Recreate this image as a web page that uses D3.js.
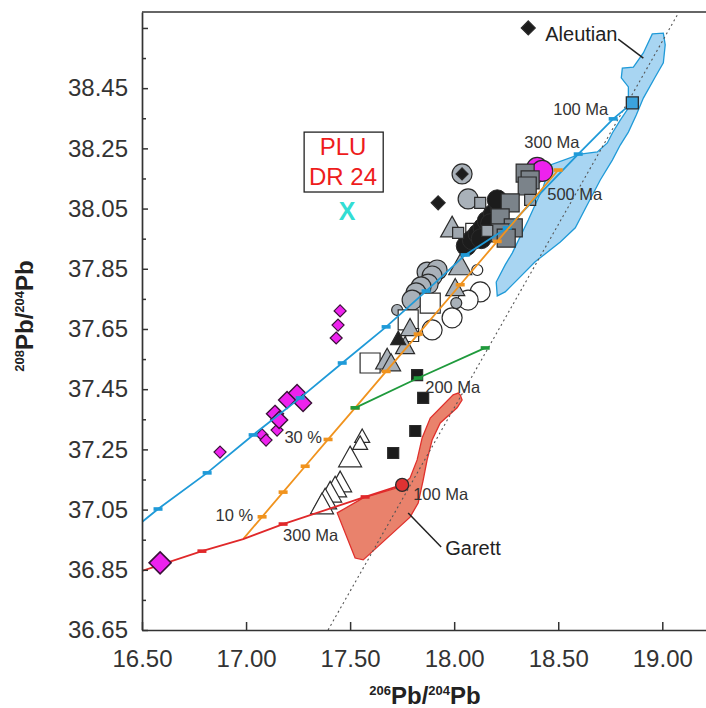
<!DOCTYPE html>
<html><head><meta charset="utf-8">
<script src="https://cdn.jsdelivr.net/npm/d3@7"></script>
<style>
body{margin:0;background:#fff}
svg{display:block}
text{font-family:"Liberation Sans",Arial,sans-serif}
</style>
</head><body>
<svg id="c" width="706" height="708"></svg>
<script>
// ---------- DATA ----------
const xTicks = [16.5, 17.0, 17.5, 18.0, 18.5, 19.0];
const yMajorTicks = [36.65, 36.85, 37.05, 37.25, 37.45, 37.65, 37.85, 38.05, 38.25, 38.45, 38.65];
const yMinorTicks = [36.75, 36.95, 37.15, 37.35, 37.55, 37.75, 37.95, 38.15, 38.35, 38.55];
const yLabelMax = 38.45;

const aleutianField = [[18.952,38.630],[19.005,38.633],[19.014,38.594],[19.005,38.534],[18.966,38.487],[18.909,38.417],[18.875,38.361],[18.837,38.304],[18.798,38.261],[18.760,38.211],[18.702,38.145],[18.639,38.062],[18.582,37.986],[18.510,37.939],[18.389,37.873],[18.303,37.813],[18.245,37.773],[18.207,37.760],[18.202,37.806],[18.245,37.863],[18.279,37.902],[18.356,38.012],[18.428,38.122],[18.462,38.195],[18.606,38.231],[18.688,38.238],[18.736,38.268],[18.760,38.301],[18.798,38.344],[18.837,38.384],[18.837,38.454],[18.803,38.484],[18.808,38.517],[18.861,38.520],[18.909,38.567]];
const garettField = [[18.029,37.431],[18.038,37.414],[18.014,37.388],[17.933,37.338],[17.894,37.281],[17.870,37.215],[17.851,37.148],[17.827,37.072],[17.788,37.025],[17.563,36.883],[17.524,36.889],[17.438,37.039],[17.563,37.089],[17.740,37.125],[17.788,37.155],[17.822,37.215],[17.846,37.288],[17.885,37.354],[17.995,37.431],[18.019,37.437]];

const referenceLine = [[17.394,36.65],[19.072,38.693]];

const blueCurve = [[16.5,37.009],[16.577,37.052],[16.813,37.172],[17.034,37.298],[17.26,37.421],[17.462,37.537],[17.673,37.657],[17.865,37.776],[18.053,37.896],[18.255,37.986],[18.596,38.231],[18.764,38.348],[18.856,38.401]];
const orangeCurve = [[16.986,36.952],[17.077,37.026],[17.178,37.108],[17.284,37.194],[17.394,37.283],[17.524,37.388],[17.673,37.509],[17.827,37.633],[18.029,37.797],[18.207,37.941],[18.5,38.178]];
const greenCurve = [[17.524,37.388],[17.827,37.487],[18.149,37.587]];
const redCurve = [[16.5,36.846],[16.788,36.912],[16.986,36.952],[17.178,37.002],[17.572,37.092],[17.75,37.132]];
const redCurveTicks = [[16.788,36.912],[17.178,37.002],[17.572,37.092]];

const magentaDiamondsXL = [[16.587,36.873]];
const magentaDiamondsL = [[17.139,37.368],[17.159,37.348],[17.197,37.414],[17.245,37.437],[17.274,37.404]];
const magentaDiamondsS = [[16.875,37.241],[17.077,37.298],[17.096,37.281],[17.149,37.314],[17.452,37.710],[17.442,37.663],[17.433,37.620]];
const magentaCircles = [[18.380,38.165],[18.399,38.185],[18.423,38.175]];
const blackDiamonds = [[18.356,38.650],[17.923,38.069]];
const circledDiamonds = [[18.038,38.165]];
const grayCirclesL = [[18.067,38.082],[17.870,37.839],[17.918,37.846],[17.894,37.826],[17.875,37.799],[17.841,37.790],[17.817,37.770],[17.798,37.746]];
const grayCirclesS = [[17.726,37.713],[18.010,37.736]];
const openCirclesL = [[18.125,37.773],[18.067,37.746],[17.990,37.687],[17.894,37.647]];
const openCirclesS = [[18.111,37.846]];
const openSquaresL = [[17.596,37.537],[17.885,37.736],[17.779,37.680]];
const openSquaresS = [[17.798,37.630],[18.087,37.979]];
const grayTrianglesL = [[18.029,37.853],[17.990,37.979],[17.678,37.540]];
const grayTrianglesM = [[18.005,37.780],[17.697,37.530],[17.764,37.587],[17.788,37.647]];
const blackTriangles = [[17.731,37.613]];
const blackCircles = [[18.058,37.926],[18.087,37.946],[18.115,37.966],[18.139,37.986],[18.159,38.009],[18.188,38.032],[18.221,38.052],[18.207,38.079],[18.175,38.000],[18.130,37.950]];
const graySquaresL = [[18.341,38.168],[18.365,38.145],[18.351,38.125],[18.269,38.069],[18.221,38.019],[18.284,37.986],[18.221,37.969],[18.250,37.952]];
const graySquaresS = [[18.125,38.069],[18.365,38.079],[18.159,37.976],[18.019,37.969]];
const blackSquares = [[17.822,37.497],[17.851,37.421],[17.813,37.311],[17.707,37.238]];
const openTrianglesL = [[17.500,37.215],[17.452,37.132],[17.428,37.115],[17.404,37.098],[17.380,37.075],[17.365,37.059]];
const openTrianglesS = [[17.558,37.288],[17.548,37.265]];
const blueSquare = [[18.856,38.401]];
const redCircle = [[17.75,37.132]];

const ageLabels = [
  {t:"100 Ma", x:18.476, y:38.361, a:"start"},
  {t:"300 Ma", x:18.337, y:38.251, a:"start"},
  {t:"500 Ma", x:18.447, y:38.079, a:"start"},
  {t:"200 Ma", x:17.861, y:37.437, a:"start"},
  {t:"100 Ma", x:17.803, y:37.082, a:"start"},
  {t:"300 Ma", x:17.178, y:36.946, a:"start"},
  {t:"10 %",   x:17.034, y:37.012, a:"end"},
  {t:"30 %",   x:17.365, y:37.271, a:"end"}
];
const fieldLabels = [
  {t:"Aleutian", x:18.4375, y:38.607, lx1:18.788, ly1:38.613, lx2:18.909, ly2:38.550},
  {t:"Garett",   x:17.957,  y:36.899, lx1:17.779, ly1:37.039, lx2:17.9375, ly2:36.926}
];
const sampleBox = {x0:17.279, x1:17.659, y0:38.105, y1:38.304, lines:["PLU","DR 24"], ys:[38.228,38.128], cx:17.466};
const sampleMark = {t:"X", x:17.486, y:38.012};

// ---------- CHART ----------
const svg = d3.select("#c");
const x = d3.scaleLinear().domain([16.5, 19.21]).range([142, 706]);
const y = d3.scaleLinear().domain([36.65, 38.703]).range([630, 12]);
const AX = "#333";

svg.append("clipPath").attr("id","clip").append("rect")
  .attr("x", x(16.5)).attr("y", y(38.703)).attr("width", 706 - x(16.5)).attr("height", y(36.65) - y(38.703));
const plot = svg.append("g").attr("clip-path","url(#clip)");

const line = d3.line().x(d => x(d[0])).y(d => y(d[1]));

// fields
plot.append("path").datum(aleutianField).attr("d", d => line(d) + "Z")
  .attr("fill", "#a8d5f2").attr("stroke", "#1f9ad8").attr("stroke-width", 1.3);
plot.append("path").datum(garettField).attr("d", d => line(d) + "Z")
  .attr("fill", "#e9826c").attr("stroke", "#e0302c").attr("stroke-width", 1.3);

// reference dotted line
plot.append("path").datum(referenceLine).attr("d", line)
  .attr("fill","none").attr("stroke","#555").attr("stroke-width",1.1).attr("stroke-dasharray","2,3");

// marker helpers
const ST = "#2b2b2b";
function circles(data, r, fill, sw) {
  plot.append("g").selectAll("circle").data(data).join("circle")
    .attr("cx", d => x(d[0])).attr("cy", d => y(d[1])).attr("r", r)
    .attr("fill", fill).attr("stroke", ST).attr("stroke-width", sw || 1.2);
}
function shape(data, pathStr, fill, sw, stroke) {
  plot.append("g").selectAll("path").data(data).join("path")
    .attr("d", pathStr).attr("transform", d => `translate(${x(d[0])},${y(d[1])})`)
    .attr("fill", fill).attr("stroke", stroke || ST).attr("stroke-width", sw || 1.2);
}
const dia = s => `M0,${-s/2}L${s/2},0L0,${s/2}L${-s/2},0Z`;
const sq = s => `M${-s/2},${-s/2}h${s}v${s}h${-s}Z`;
const tri = s => { const h = s*0.9; return `M0,${-2*h/3}L${s/2},${h/3}L${-s/2},${h/3}Z`; };

circles(openCirclesL, 10, "#fff");
circles(openCirclesS, 5.5, "#fff");
circles(grayCirclesL, 10, "#a9b1b9");
circles(grayCirclesS, 5.5, "#a9b1b9");
shape(openSquaresL, sq(20), "#fff");
shape(openSquaresS, sq(13), "#fff");
shape(grayTrianglesL, tri(23), "#a9b1b9");
shape(grayTrianglesM, tri(19), "#a9b1b9");
shape(blackTriangles, tri(15), "#222");
circles(blackCircles, 10, "#1c1c1c", 1);
circles(magentaCircles, 10.5, "#ee22ee", 1.2);
shape(graySquaresL, sq(18), "#7b838a");
shape(graySquaresS, sq(11), "#9ea6ae");
shape(blackSquares, sq(11), "#1c1c1c");
shape(openTrianglesL, tri(23), "#fff");
shape(openTrianglesS, tri(15), "#fff");
circles(circledDiamonds, 10, "#a9b1b9");
shape(circledDiamonds, dia(12), "#1c1c1c");
shape(blackDiamonds, dia(14), "#1c1c1c");
shape(magentaDiamondsS, dia(12), "#ee22ee", 1.2, "#3a1238");
shape(magentaDiamondsL, dia(17), "#ee22ee", 1.4, "#3a1238");

// evolution / mixing curves
function curve(data, color, ticks) {
  plot.append("path").datum(data).attr("d", line)
    .attr("fill","none").attr("stroke", color).attr("stroke-width", 1.8);
  plot.append("g").selectAll("rect").data(ticks).join("rect")
    .attr("x", d => x(d[0]) - 4.5).attr("y", d => y(d[1]) - 1.8)
    .attr("width", 9).attr("height", 3.6).attr("fill", color);
}
curve(blueCurve, "#1f9ad8", blueCurve.slice(1, -1));
curve(orangeCurve, "#f0931e", orangeCurve.slice(1));
curve(greenCurve, "#1f9a3c", greenCurve);
curve(redCurve, "#e0282a", redCurveTicks);

shape(magentaDiamondsXL, dia(22), "#ee22ee", 1.6, "#3a1238");
shape(blueSquare, sq(12), "#3ba3dd", 1.3);
circles(redCircle, 6.5, "#e03232", 1.3);

// labels
const lab = svg.append("g").attr("fill", "#333");
lab.selectAll("text.age").data(ageLabels).join("text").attr("class","age")
  .attr("x", d => x(d.x)).attr("y", d => y(d.y)).attr("text-anchor", d => d.a)
  .attr("font-size", 16.5).text(d => d.t);
lab.selectAll("line.lead").data(fieldLabels).join("line").attr("class","lead")
  .attr("x1", d => x(d.lx1)).attr("y1", d => y(d.ly1)).attr("x2", d => x(d.lx2)).attr("y2", d => y(d.ly2))
  .attr("stroke", "#222").attr("stroke-width", 1.5);
lab.selectAll("text.field").data(fieldLabels).join("text").attr("class","field")
  .attr("x", d => x(d.x)).attr("y", d => y(d.y)).attr("font-size", 20).attr("fill","#222").text(d => d.t);

svg.append("rect").attr("x", x(sampleBox.x0)).attr("y", y(sampleBox.y1))
  .attr("width", x(sampleBox.x1) - x(sampleBox.x0)).attr("height", y(sampleBox.y0) - y(sampleBox.y1))
  .attr("fill","#fff").attr("stroke","#222").attr("stroke-width",1.3);
svg.selectAll("text.box").data(sampleBox.lines).join("text").attr("class","box")
  .attr("x", x(sampleBox.cx)).attr("y", (d,i) => y(sampleBox.ys[i])).attr("text-anchor","middle")
  .attr("font-size", 24).attr("fill", "#ee1c1c").text(d => d);
svg.append("text").attr("x", x(sampleMark.x)).attr("y", y(sampleMark.y)).attr("text-anchor","middle")
  .attr("font-size", 25).attr("font-weight","bold").attr("fill","#33ddd3").text(sampleMark.t);

// axes
const fmt = d3.format(".2f");
const gx = svg.append("g").attr("transform", `translate(0,${y(36.65)})`)
  .call(d3.axisBottom(x).tickValues(xTicks).tickFormat(fmt).tickSizeInner(-8).tickSizeOuter(0).tickPadding(20));
const gy = svg.append("g").attr("transform", `translate(${x(16.5)},0)`)
  .call(d3.axisLeft(y).tickValues(yMajorTicks).tickFormat(d => d <= yLabelMax + 1e-9 ? fmt(d) : "").tickSizeInner(-6).tickSizeOuter(0).tickPadding(14));
const gym = svg.append("g").attr("transform", `translate(${x(16.5)},0)`)
  .call(d3.axisLeft(y).tickValues(yMinorTicks).tickFormat("").tickSizeInner(-4).tickSizeOuter(0));
gym.select(".domain").remove();
[gx, gy, gym].forEach(g => {
  g.attr("font-family", '"Liberation Sans",Arial,sans-serif').attr("font-size", 24);
  g.select(".domain").attr("stroke", AX).attr("stroke-width", 1.7);
  g.selectAll(".tick line").attr("stroke", AX).attr("stroke-width", 1.5);
  g.selectAll(".tick text").attr("fill", "#333");
});
svg.append("line").attr("x1", x(16.5)).attr("x2", 706).attr("y1", y(38.703)).attr("y2", y(38.703))
  .attr("stroke", AX).attr("stroke-width", 1.7);

// axis titles
function title(g, a, b) {
  const t = g.append("text").attr("font-weight","bold").attr("fill","#222").attr("text-anchor","middle");
  t.append("tspan").attr("font-size", 13).attr("dy", -9).text(a);
  t.append("tspan").attr("font-size", 24).attr("dy", 9).text("Pb/");
  t.append("tspan").attr("font-size", 13).attr("dy", -9).text(b);
  t.append("tspan").attr("font-size", 24).attr("dy", 9).text("Pb");
}
title(svg.append("g").attr("transform","translate(425,704)"), "206", "204");
title(svg.append("g").attr("transform","translate(33,316) rotate(-90)"), "208", "204");
</script>
</body></html>
